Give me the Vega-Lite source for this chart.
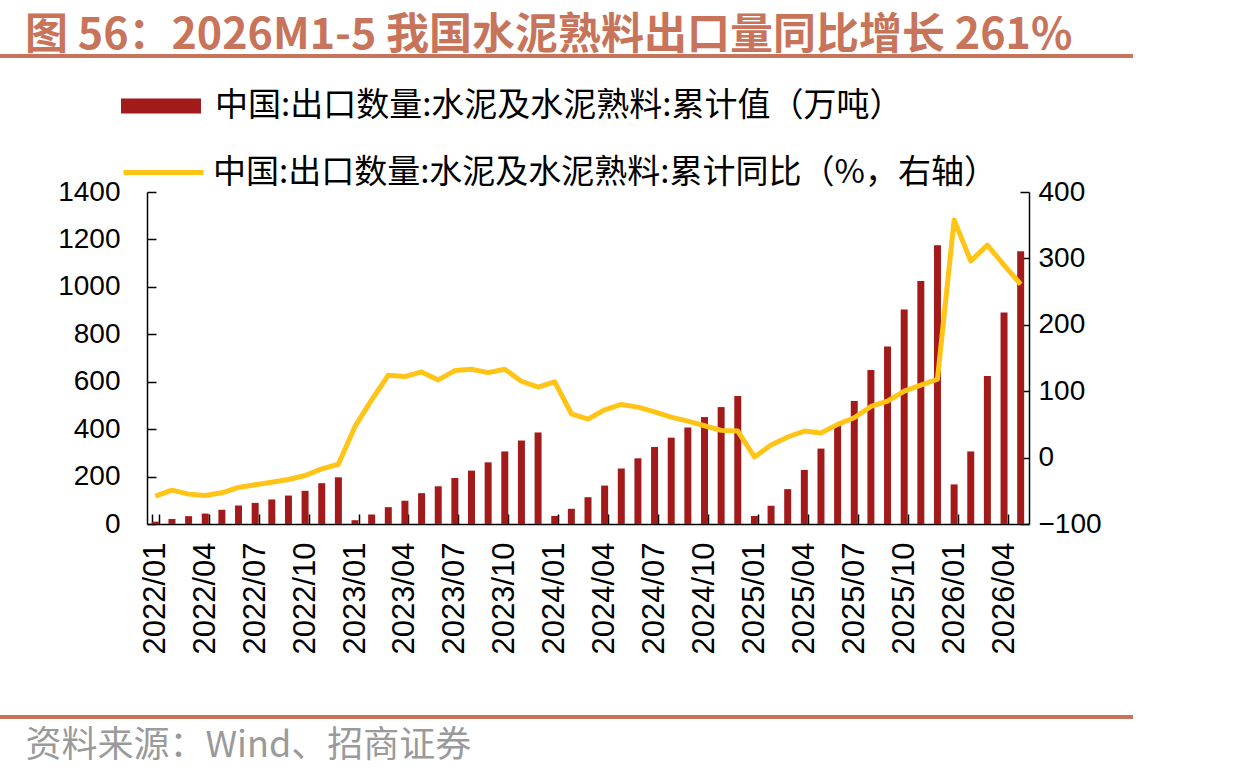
{
  "$schema": "https://vega.github.io/schema/vega-lite/v6.json",
  "width": 882,
  "height": 332,
  "autosize": {"type": "none"},
  "padding": {"left": 147, "top": 192, "right": 211, "bottom": 255},
  "background": "white",
  "config": {"view": {"stroke": null}, "font": "Liberation Sans"},
  "title": {
    "text": "图 56：2026M1-5 我国水泥熟料出口量同比增长 261%",
    "anchor": "start",
    "frame": "group",
    "dx": -122,
    "dy": 14,
    "offset": 10,
    "font": "Noto Sans CJK SC",
    "fontSize": 43,
    "fontWeight": "bold",
    "color": "#C8745A"
  },
  "data": {
    "values": [
      {"month": "2022/01", "value": 10, "yoy": -58},
      {"month": "2022/02", "value": 21, "yoy": -49},
      {"month": "2022/03", "value": 33, "yoy": -55},
      {"month": "2022/04", "value": 44, "yoy": -57},
      {"month": "2022/05", "value": 60, "yoy": -53},
      {"month": "2022/06", "value": 78, "yoy": -45},
      {"month": "2022/07", "value": 89, "yoy": -41},
      {"month": "2022/08", "value": 103, "yoy": -37},
      {"month": "2022/09", "value": 120, "yoy": -33},
      {"month": "2022/10", "value": 140, "yoy": -27},
      {"month": "2022/11", "value": 172, "yoy": -17},
      {"month": "2022/12", "value": 197, "yoy": -10},
      {"month": "2023/01", "value": 16, "yoy": 47},
      {"month": "2023/02", "value": 40, "yoy": 87},
      {"month": "2023/03", "value": 71, "yoy": 124},
      {"month": "2023/04", "value": 98, "yoy": 122},
      {"month": "2023/05", "value": 130, "yoy": 129},
      {"month": "2023/06", "value": 159, "yoy": 117},
      {"month": "2023/07", "value": 194, "yoy": 131},
      {"month": "2023/08", "value": 225, "yoy": 133},
      {"month": "2023/09", "value": 260, "yoy": 128},
      {"month": "2023/10", "value": 306, "yoy": 133},
      {"month": "2023/11", "value": 352, "yoy": 115},
      {"month": "2023/12", "value": 386, "yoy": 106},
      {"month": "2024/01", "value": 34, "yoy": 114},
      {"month": "2024/02", "value": 64, "yoy": 66},
      {"month": "2024/03", "value": 113, "yoy": 58},
      {"month": "2024/04", "value": 162, "yoy": 72},
      {"month": "2024/05", "value": 234, "yoy": 80},
      {"month": "2024/06", "value": 277, "yoy": 76},
      {"month": "2024/07", "value": 325, "yoy": 69},
      {"month": "2024/08", "value": 364, "yoy": 61},
      {"month": "2024/09", "value": 407, "yoy": 55},
      {"month": "2024/10", "value": 451, "yoy": 48},
      {"month": "2024/11", "value": 493, "yoy": 41},
      {"month": "2024/12", "value": 540, "yoy": 40},
      {"month": "2025/01", "value": 34, "yoy": 1},
      {"month": "2025/02", "value": 77, "yoy": 19},
      {"month": "2025/03", "value": 147, "yoy": 31},
      {"month": "2025/04", "value": 228, "yoy": 40},
      {"month": "2025/05", "value": 318, "yoy": 37},
      {"month": "2025/06", "value": 417, "yoy": 50},
      {"month": "2025/07", "value": 519, "yoy": 60},
      {"month": "2025/08", "value": 649, "yoy": 77},
      {"month": "2025/09", "value": 749, "yoy": 85},
      {"month": "2025/10", "value": 905, "yoy": 100},
      {"month": "2025/11", "value": 1025, "yoy": 109},
      {"month": "2025/12", "value": 1175, "yoy": 118},
      {"month": "2026/01", "value": 167, "yoy": 358},
      {"month": "2026/02", "value": 306, "yoy": 296},
      {"month": "2026/03", "value": 624, "yoy": 320},
      {"month": "2026/04", "value": 892, "yoy": 290},
      {"month": "2026/05", "value": 1150, "yoy": 261}
    ]
  },
  "layer": [
    {
      "mark": {"type": "bar", "color": "#A21A1A"},
      "encoding": {
        "x": {
          "field": "month", "type": "ordinal",
          "scale": {"paddingInner": 0.58, "paddingOuter": 0.29},
          "axis": {
            "values": ["2022/01","2022/04","2022/07","2022/10","2023/01","2023/04","2023/07","2023/10","2024/01","2024/04","2024/07","2024/10","2025/01","2025/04","2025/07","2025/10","2026/01","2026/04"],
            "labelAngle": -90, "labelFontSize": 31, "labelFont": "Liberation Sans", "labelColor": "black", "labelPadding": 28,
            "tickBand": "extent", "tickExtra": false, "tickSize": -10, "tickColor": "black", "tickWidth": 1.5,
            "domainColor": "black", "domainWidth": 1.5, "grid": false,
            "title": "资料来源：Wind、招商证券", "titleAnchor": "start", "titleAlign": "left", "titleX": -122, "titleY": 221,
            "titleBaseline": "middle", "titleFont": "Noto Sans CJK SC", "titleFontSize": 36, "titleFontWeight": "normal", "titleColor": "#9A9A9A"
          }
        },
        "y": {
          "field": "value", "type": "quantitative",
          "scale": {"domain": [0, 1400], "nice": false},
          "axis": {
            "values": [0,200,400,600,800,1000,1200,1400], "format": "d", "title": null, "grid": false,
            "labelFontSize": 28, "labelFont": "Liberation Sans", "labelColor": "black", "labelPadding": 36,
            "tickSize": -9, "tickColor": "black", "tickWidth": 1.5, "domainColor": "black", "domainWidth": 1.5
          }
        },
        "fill": {
          "datum": "中国:出口数量:水泥及水泥熟料:累计值（万吨）",
          "scale": {"range": ["#A21A1A"]},
          "legend": {
            "orient": "none", "legendX": -26, "legendY": -126, "title": null, "padding": 0,
            "symbolType": "M-1,-0.19H1V0.19H-1Z", "symbolSize": 6400, "symbolStrokeWidth": 0,
            "labelFont": "Noto Sans CJK SC", "labelFontSize": 33, "labelColor": "black", "labelLimit": 2000, "labelOffset": 14
          }
        }
      }
    },
    {
      "mark": {"type": "line", "strokeWidth": 5, "strokeJoin": "round"},
      "encoding": {
        "x": {
          "field": "month", "type": "ordinal",
          "scale": {"paddingInner": 0.58, "paddingOuter": 0.29},
          "axis": {
            "values": ["2022/01","2022/04","2022/07","2022/10","2023/01","2023/04","2023/07","2023/10","2024/01","2024/04","2024/07","2024/10","2025/01","2025/04","2025/07","2025/10","2026/01","2026/04"],
            "labelAngle": -90, "labelFontSize": 31, "labelFont": "Liberation Sans", "labelColor": "black", "labelPadding": 28,
            "tickBand": "extent", "tickExtra": false, "tickSize": -10, "tickColor": "black", "tickWidth": 1.5,
            "domainColor": "black", "domainWidth": 1.5, "grid": false,
            "title": "资料来源：Wind、招商证券", "titleAnchor": "start", "titleAlign": "left", "titleX": -122, "titleY": 221,
            "titleBaseline": "middle", "titleFont": "Noto Sans CJK SC", "titleFontSize": 36, "titleFontWeight": "normal", "titleColor": "#9A9A9A"
          }
        },
        "y": {
          "field": "yoy", "type": "quantitative",
          "scale": {"domain": [-100, 400], "nice": false},
          "axis": {
            "orient": "right", "values": [-100,0,100,200,300,400], "format": "d", "title": null, "grid": false,
            "labelFontSize": 28, "labelFont": "Liberation Sans", "labelColor": "black", "labelPadding": 18,
            "tickSize": -9, "tickColor": "black", "tickWidth": 1.5, "domainColor": "black", "domainWidth": 1.5
          }
        },
        "stroke": {
          "datum": "中国:出口数量:水泥及水泥熟料:累计同比（%，右轴）",
          "scale": {"range": ["#FFC416"]},
          "legend": {
            "orient": "none", "legendX": -26, "legendY": -62, "title": null, "padding": 0,
            "symbolType": "stroke", "symbolSize": 6400, "symbolStrokeWidth": 5,
            "labelFont": "Noto Sans CJK SC", "labelFontSize": 33, "labelColor": "black", "labelLimit": 2000, "labelOffset": 7
          }
        }
      }
    },
    {
      "data": {"values": [{"pos": "top"}]},
      "mark": {"type": "rule", "color": "#C8745A", "strokeWidth": 4},
      "encoding": {"x": {"value": -147}, "x2": {"value": 986}, "y": {"value": -136}}
    },
    {
      "data": {"values": [{"pos": "bottom"}]},
      "mark": {"type": "rule", "color": "#C8745A", "strokeWidth": 4},
      "encoding": {"x": {"value": -147}, "x2": {"value": 986}, "y": {"value": 525}}
    }
  ],
  "resolve": {"scale": {"y": "independent"}}
}
